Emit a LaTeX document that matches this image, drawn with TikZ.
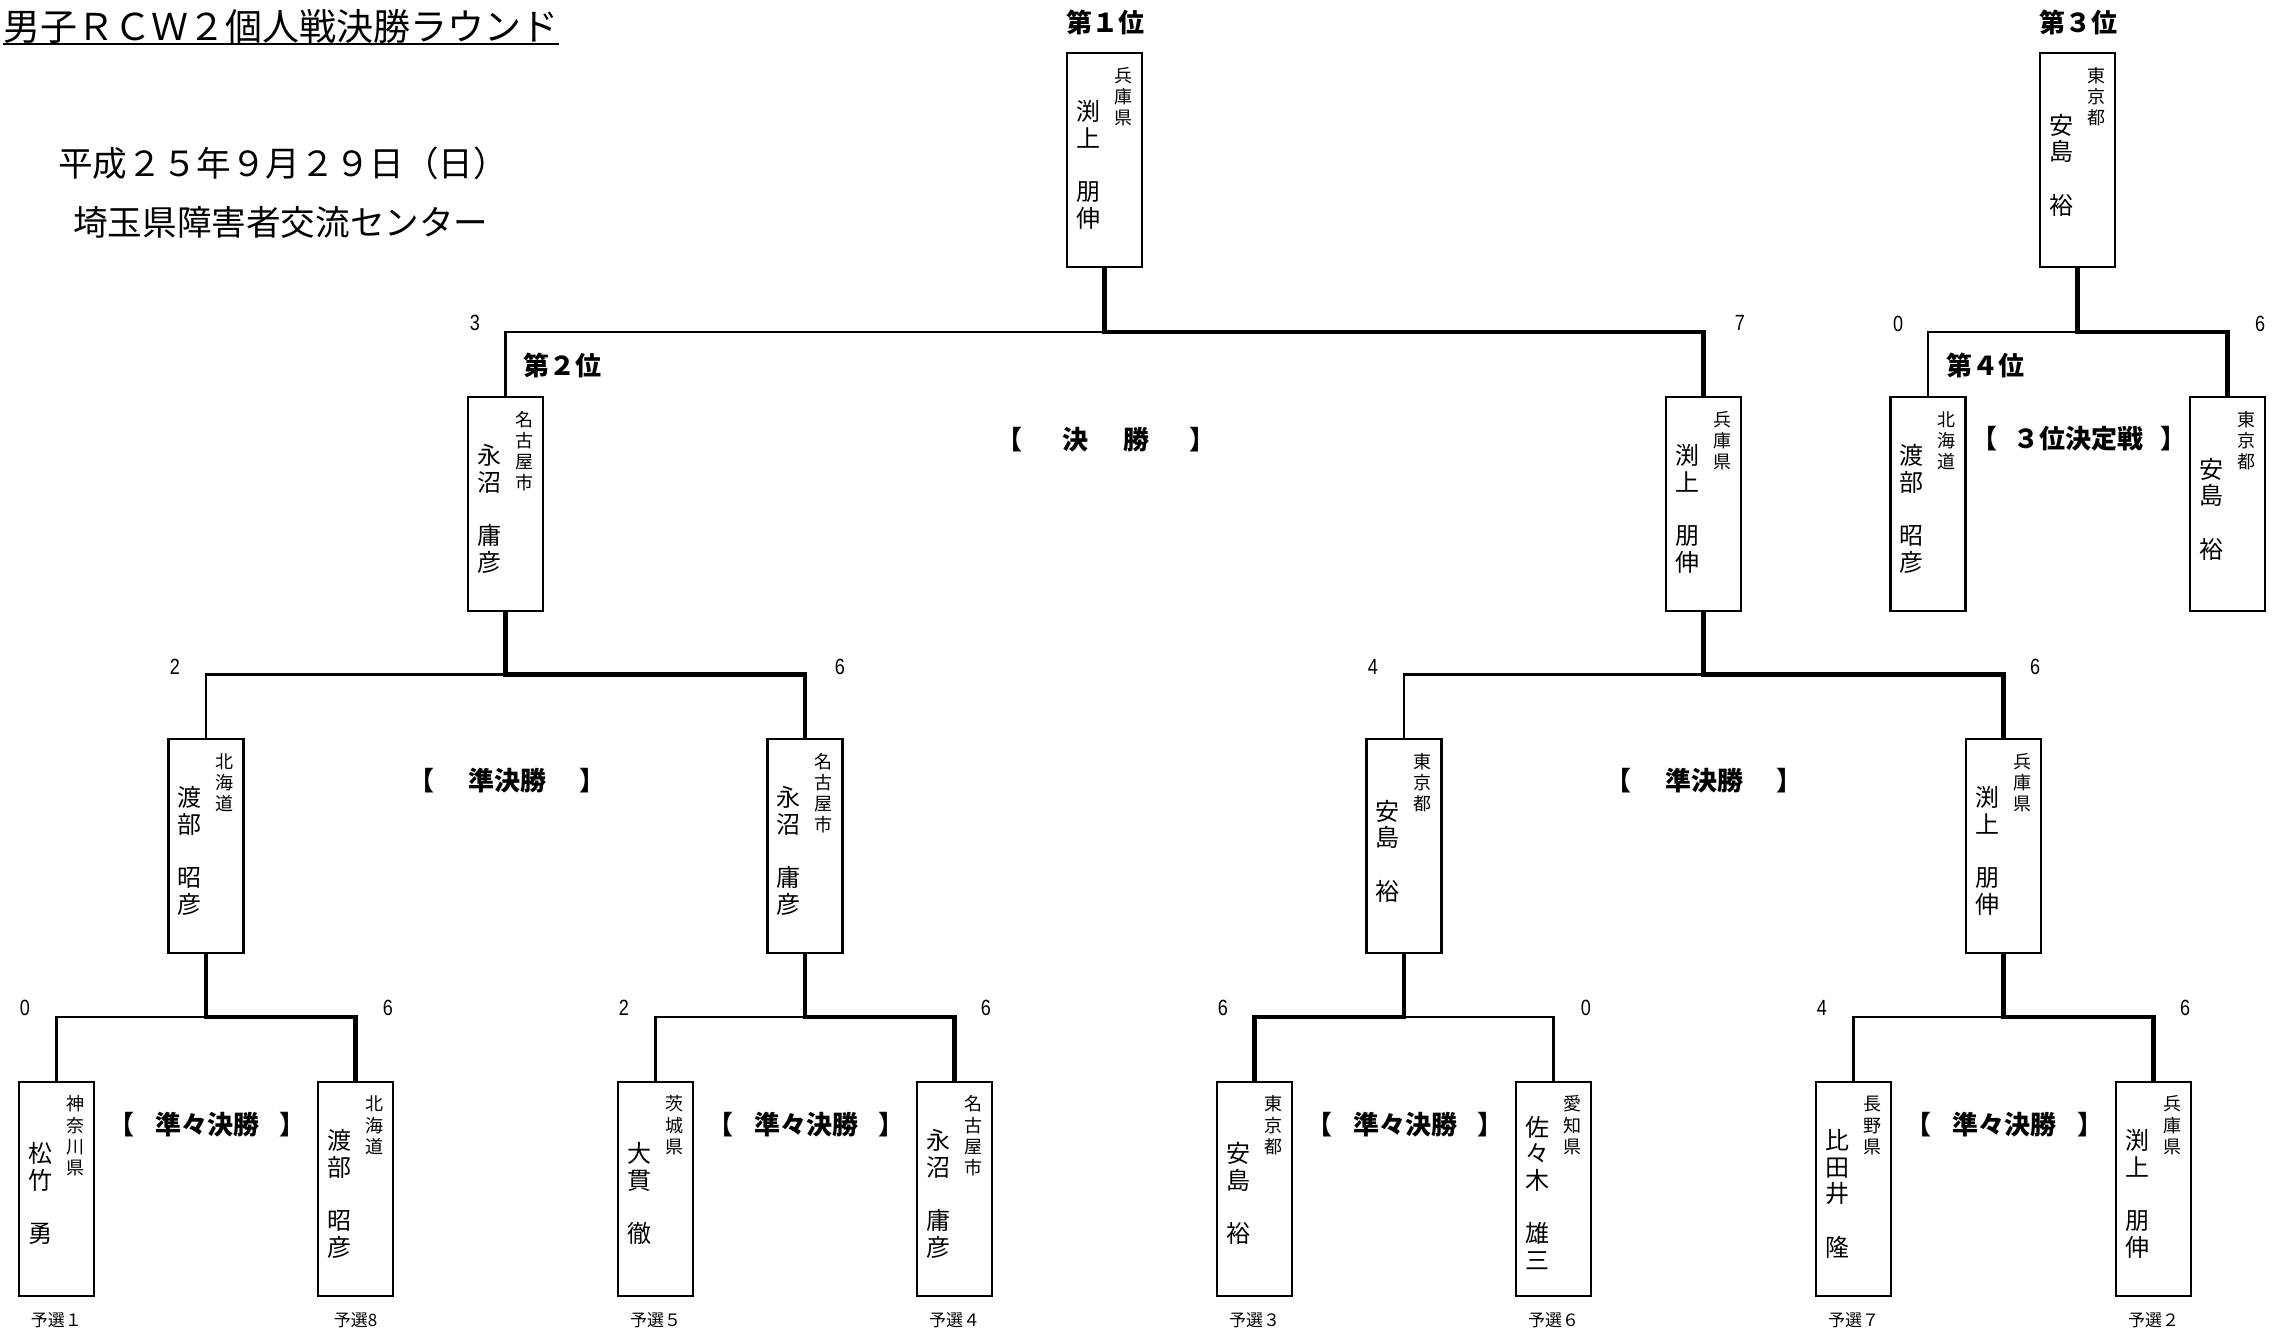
\documentclass[tikz,border=0pt]{standalone}
\usepackage{fontspec}
\usepackage{graphicx}
\setmainfont{Noto Sans CJK JP}
\newfontfamily\numf{Liberation Sans}
\makeatletter
\def\sst{\vrule height .88em depth .12em width 0pt\relax}
\newcommand\vlist[2]{\vbox{\baselineskip=#1\relax\lineskiplimit=-\maxdimen\lineskip=0pt\vlistA#2\vlistend}}
\def\vlistA#1#2\vlistend{\hbox to 1em{\hss\sst#1\hss}\ifx\relax#2\relax\else\expandafter\vlistA\fi#2\vlistend}
\def\vlistend{}
\makeatother
\tikzset{
  boxst/.style={draw, rectangle, line width=1.15pt, minimum width=37.5pt, minimum height=107pt, inner sep=0pt},
  nmst/.style={inner sep=0pt, font=\fontsize{12}{12}\selectfont},
  pfst/.style={inner sep=0pt, anchor=north, font=\fontsize{9}{9}\selectfont},
  winl/.style={line width=2.3pt},
  losel/.style={line width=1.15pt},
  lbl/.style={inner sep=0pt, font=\bfseries\fontsize{13}{13}\selectfont},
  scr/.style={inner sep=0pt, font=\numf\fontsize{11}{11}\selectfont},
  yos/.style={inner sep=0pt, font=\fontsize{8.5}{8.5}\selectfont},
  hdr/.style={inner sep=0pt, font=\fontsize{17.3}{17.3}\selectfont},
}
\newcommand\player[5]{%
  \node[boxst] (#1) at (#2,{#3+107}) {};
  \node[nmst] (#1n) at ({#2-16.5},{#3+112}) {\vlist{13.3pt}{#4}};
  \node[pfst] (#1p) at ({#2+18.5},{#3+13}) {\vlist{10.6pt}{#5}};
}
\newcommand\scoretext[3]{\node[scr] (#1) at (#2) {\scalebox{0.82}[1]{#3}};}
\begin{document}
\begin{tikzpicture}[x=0.5pt,y=-0.5pt]
\useasboundingbox (0,0) rectangle (2288,1336);
\fill[white] (0,0) rectangle (2288,1336);

% header
\node[anchor=west, inner sep=0pt, font=\fontsize{18.5}{18.5}\selectfont] (title) at (3,26) {男子ＲＣＷ２個人戦決勝ラウンド};
\draw[line width=1pt] (title.west |- 0,44) -- (title.east |- 0,44);
\node[hdr, anchor=west] (date) at (58,163) {平成２５年９月２９日（日）};
\node[hdr] (venue) at (281,222) {埼玉県障害者交流センター};

% players
\player{w1}{1104.6}{53}{渕上　朋伸}{兵庫県}
\player{w3}{2077.75}{53}{安島　裕}{東京都}
\player{f1}{505.5}{397}{永沼　庸彦}{名古屋市}
\player{f2}{1703.75}{397}{渕上　朋伸}{兵庫県}
\player{t1}{1928}{397}{渡部　昭彦}{北海道}
\player{t2}{2227.5}{397}{安島　裕}{東京都}
\player{s1}{206}{739}{渡部　昭彦}{北海道}
\player{s2}{805}{739}{永沼　庸彦}{名古屋市}
\player{s3}{1404}{739}{安島　裕}{東京都}
\player{s4}{2003.5}{739}{渕上　朋伸}{兵庫県}
\player{q1}{56.5}{1081.7}{松竹　勇}{神奈川県}
\player{q2}{355.5}{1081.7}{渡部　昭彦}{北海道}
\player{q3}{655.5}{1081.7}{大貫　徹}{茨城県}
\player{q4}{954.5}{1081.7}{永沼　庸彦}{名古屋市}
\player{q5}{1254.5}{1081.7}{安島　裕}{東京都}
\player{q6}{1553.5}{1081.7}{佐々木　雄三}{愛知県}
\player{q7}{1853.5}{1081.7}{比田井　隆}{長野県}
\player{q8}{2153.5}{1081.7}{渕上　朋伸}{兵庫県}

% line levels
\coordinate (yq) at (0,1017);
\coordinate (ys) at (0,674.5);
\coordinate (yf) at (0,332);

% quarterfinals
\draw[losel] (s1.south |- yq) -| (q1.north);
\draw[winl] (s1.south) -- (s1.south |- yq) -| (q2.north);
\draw[losel] (s2.south |- yq) -| (q3.north);
\draw[winl] (s2.south) -- (s2.south |- yq) -| (q4.north);
\draw[losel] (s3.south |- yq) -| (q6.north);
\draw[winl] (s3.south) -- (s3.south |- yq) -| (q5.north);
\draw[losel] (s4.south |- yq) -| (q7.north);
\draw[winl] (s4.south) -- (s4.south |- yq) -| (q8.north);
% semifinals
\draw[losel] (f1.south |- ys) -| (s1.north);
\draw[winl] (f1.south) -- (f1.south |- ys) -| (s2.north);
\draw[losel] (f2.south |- ys) -| (s3.north);
\draw[winl] (f2.south) -- (f2.south |- ys) -| (s4.north);
% final
\draw[losel] (w1.south |- yf) -| (f1.north);
\draw[winl] (w1.south) -- (w1.south |- yf) -| (f2.north);
% third place
\draw[losel] (w3.south |- yf) -| (t1.north);
\draw[winl] (w3.south) -- (w3.south |- yf) -| (t2.north);

% rank labels
\node[lbl] (r1) at (1105,22) {第１位};
\node[lbl] (r3) at (2078,22) {第３位};
\node[lbl] (r2) at (562,365) {第２位};
\node[lbl] (r4) at (1985,365) {第４位};

% round labels
\node[lbl] (lfin) at (1106,440) {【\hspace{1.52em}決\hspace{1.38em}勝\hspace{1.52em}】};
\node[lbl] (lthird) at (2079,439) {【\hspace{0.62em}３位決定戦\hspace{0.62em}】};
\node[lbl] (lsf1) at (507,781) {【\hspace{1.3em}準決勝\hspace{1.3em}】};
\node[lbl] (lsf2) at (1704,781) {【\hspace{1.3em}準決勝\hspace{1.3em}】};
\node[lbl] (lqf1) at (207,1125) {【\hspace{0.8em}準々決勝\hspace{0.8em}】};
\node[lbl] (lqf2) at (806,1125) {【\hspace{0.8em}準々決勝\hspace{0.8em}】};
\node[lbl] (lqf3) at (1405,1125) {【\hspace{0.8em}準々決勝\hspace{0.8em}】};
\node[lbl] (lqf4) at (2004.5,1125) {【\hspace{0.8em}準々決勝\hspace{0.8em}】};

% scores
\scoretext{sf1}{475,323}{3}
\scoretext{sf2}{1740,323}{7}
\scoretext{st1}{1898,324}{0}
\scoretext{st2}{2260,324}{6}
\scoretext{ss1}{175,667}{2}
\scoretext{ss2}{840,667}{6}
\scoretext{ss3}{1373,667}{4}
\scoretext{ss4}{2035,667}{6}
\scoretext{sq1}{25,1008}{0}
\scoretext{sq2}{388,1008}{6}
\scoretext{sq3}{624,1008}{2}
\scoretext{sq4}{986,1008}{6}
\scoretext{sq5}{1223,1008}{6}
\scoretext{sq6}{1586,1008}{0}
\scoretext{sq7}{1822,1008}{4}
\scoretext{sq8}{2185,1008}{6}

% qualifying seeds
\node[yos] (y1) at (56.5,1320) {予選１};
\node[yos] (y2) at (355.5,1320) {予選8};
\node[yos] (y3) at (655.5,1320) {予選５};
\node[yos] (y4) at (954.5,1320) {予選４};
\node[yos] (y5) at (1254.5,1320) {予選３};
\node[yos] (y6) at (1553.5,1320) {予選６};
\node[yos] (y7) at (1853.5,1320) {予選７};
\node[yos] (y8) at (2153.5,1320) {予選２};
\end{tikzpicture}
\end{document}
